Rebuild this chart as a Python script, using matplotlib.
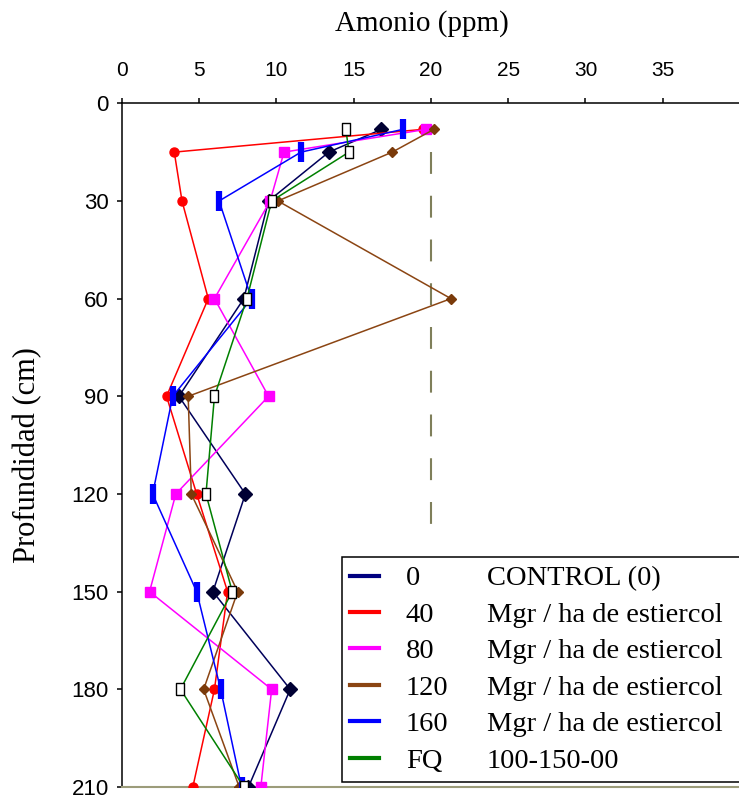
import matplotlib
matplotlib.use("Agg")
import matplotlib.pyplot as plt
from matplotlib.lines import Line2D

# profundidad (cm) y amonio (ppm) por tratamiento
depths = [8, 15, 30, 60, 90, 120, 150, 180, 210]
control = [16.8, 13.4, 9.5, 7.9, 3.7, 8.0, 5.9, 10.9, 8.2]
est40 = [19.5, 3.4, 3.9, 5.6, 2.9, 4.85, 6.85, 6.0, 4.6]
est80 = [19.7, 10.5, 9.6, 6.0, 9.5, 3.5, 1.8, 9.7, 9.0]
est120 = [20.2, 17.5, 10.1, 21.3, 4.3, 4.5, 7.5, 5.3, 7.6]
est160 = [18.2, 11.6, 6.3, 8.4, 3.3, 2.0, 4.85, 6.4, 7.75]
fq = [14.5, 14.7, 9.7, 8.1, 6.0, 5.45, 7.15, 3.8, 7.9]

ref_x = 20
ref_depth = [15, 135]

legend_col1 = ["0", "40", "80", "120", "160", "FQ"]
legend_col2 = ["CONTROL (0)", "Mgr / ha de estiercol", "Mgr / ha de estiercol",
               "Mgr / ha de estiercol", "Mgr / ha de estiercol", "100-150-00"]
legend_colors = ["#000080", "#ff0000", "#ff00ff", "#8b4513", "#0000ff", "#008000"]

xticks = [0, 5, 10, 15, 20, 25, 30, 35]
yticks = [0, 30, 60, 90, 120, 150, 180, 210]

serif = ["Liberation Serif", "DejaVu Serif"]
sans = ["Liberation Sans Narrow", "Liberation Sans", "DejaVu Sans"]

fig = plt.figure(figsize=(7.39, 7.98), dpi=100)
ax = fig.add_axes([0.1647, 0.01378, 0.8367, 0.8568])

# linea de referencia 20 ppm
ax.plot([ref_x, ref_x], ref_depth, color="#7f7f5a", lw=1.5, dashes=(10.5, 10.5), zorder=1)

lw = 1.1
ax.plot(control, depths, color="#00005a", lw=lw, marker="D", ms=7,
        mfc="#000033", mec="#000033", zorder=3)
ax.plot(est40, depths, color="#ff0000", lw=lw, marker="o", ms=6.5,
        mfc="#ff0000", mec="#ff0000", zorder=3)
ax.plot(est80, depths, color="#ff00ff", lw=lw, marker="s", ms=6.5,
        mfc="#ff00ff", mec="#ff00ff", zorder=3)
ax.plot(est120, depths, color="#8b4513", lw=lw, marker="D", ms=5,
        mfc="#7a3a0a", mec="#7a3a0a", zorder=3)
ax.plot(est160, depths, color="#0000ff", lw=lw, marker="|", ms=14, mew=4.5,
        mec="#0000ff", zorder=3)
box = [(-0.35, -0.5), (0.35, -0.5), (0.35, 0.5), (-0.35, 0.5), (-0.35, -0.5)]
ax.plot(fq, depths, color="#008000", lw=lw, marker=box, ms=9,
        mfc="white", mec="black", mew=1.0, zorder=4)

ax.set_xlim(0, 40)
ax.set_ylim(210, 0)
ax.xaxis.tick_top()
ax.set_xticks(xticks)
ax.set_yticks(yticks)
ax.tick_params(axis="x", direction="out", length=3.6, width=1.1, pad=13,
               labelsize=15, top=True, bottom=False)
ax.tick_params(axis="y", direction="out", length=3.6, width=1.1, pad=5.8,
               labelsize=16, right=False)
for lab in ax.get_xticklabels() + ax.get_yticklabels():
    lab.set_family(sans)

ax.spines["right"].set_visible(False)
ax.spines["top"].set_linewidth(1.1)
ax.spines["left"].set_linewidth(1.1)
ax.spines["bottom"].set_color("#9c9c7a")
ax.spines["bottom"].set_linewidth(1.5)

fig.text(421.5 / 739, 1 - 31 / 798, "Amonio (ppm)", ha="center", va="baseline",
         fontsize=21, family=serif)
fig.text(28 / 739, 1 - 455 / 798, "Profundidad (cm)", ha="center", va="center",
         rotation=90, fontsize=22, family=serif)

# leyenda: columna 1 con lineas, columna 2 solo texto
handles = [Line2D([], [], color=c, lw=3) for c in legend_colors]
leg_kw = dict(prop={"family": serif, "size": 20.5}, labelspacing=0.37,
              borderpad=0.3, borderaxespad=0, loc="upper left",
              bbox_transform=fig.transFigure)
leg1 = ax.legend(handles, legend_col1, mode="expand",
                 bbox_to_anchor=(341.7 / 739, 0.0, 0.75, 1 - 557 / 798),
                 handlelength=1.0, handletextpad=0.95, fancybox=False,
                 framealpha=1, edgecolor="black", **leg_kw)
leg1.get_frame().set_linewidth(1.1)
ax.add_artist(leg1)

blank = [Line2D([], [], linestyle="none") for _ in legend_col2]
leg2 = ax.legend(blank, legend_col2, bbox_to_anchor=(478 / 739, 1 - 557 / 798),
                 handlelength=0, handletextpad=0, frameon=False, **leg_kw)

fig.savefig("out.png", dpi=100)
